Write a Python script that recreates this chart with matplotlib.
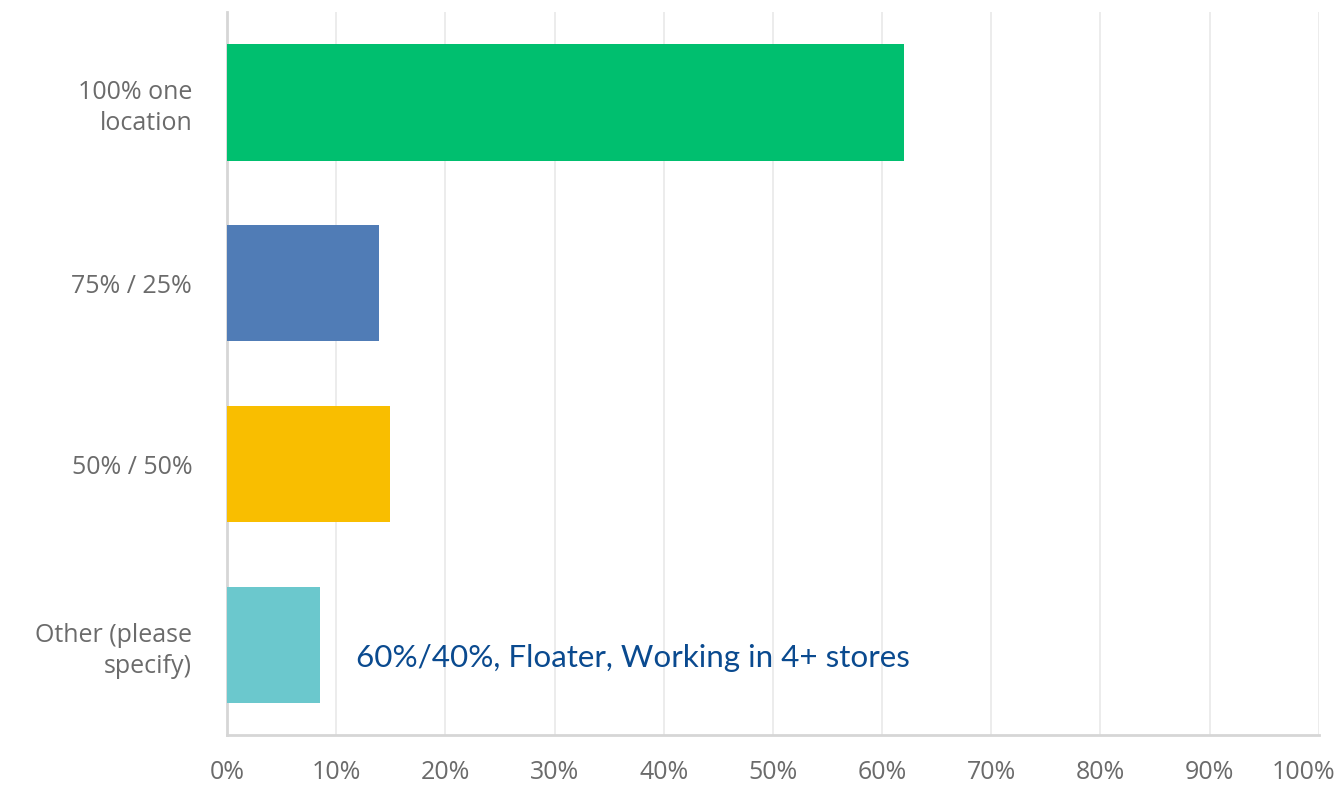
import matplotlib.pyplot as plt
import matplotlib.transforms as mtransforms

# survey answers and share of respondents (%)
categories = ['100% one\nlocation', '75% / 25%', '50% / 50%', 'Other (please\nspecify)']
values = [62.0, 13.9, 14.9, 8.5]
bar_colors = ['#00bf6f', '#507cb6', '#f9be00', '#6bc8cd']
x_ticks = list(range(0, 101, 10))
x_labels = [f'{t}%' for t in x_ticks]
note = '60%/40%, Floater, Working in 4+ stores'

fig = plt.figure(figsize=(13.43, 7.89), dpi=100)
ax = fig.add_axes([0.169, 0.068, 0.813, 0.917])

y = list(range(len(categories)))
ax.barh(y, values, height=0.645, color=bar_colors, zorder=3)

ax.set_xlim(0, 100)
ax.set_ylim(3.5, -0.5)
ax.set_xticks(x_ticks)
ax.set_xticklabels(x_labels)
ax.set_yticks(y)
ax.set_yticklabels(categories, linespacing=1.3)

for lab in ax.get_xticklabels() + ax.get_yticklabels():
    lab.set_fontfamily('Open Sans')
    lab.set_fontsize(18)
    lab.set_color('#6b6b6b')

ax.tick_params(axis='x', length=0, pad=18)
ax.tick_params(axis='y', length=0, pad=25)

# the last tick label sits a bit left so it stays inside the image
last = ax.get_xticklabels()[-1]
last.set_transform(last.get_transform() + mtransforms.ScaledTranslation(-0.15, 0, fig.dpi_scale_trans))

ax.grid(axis='x', color='#e9e9e9', linewidth=1.2, zorder=0)
ax.spines['top'].set_visible(False)
ax.spines['right'].set_visible(False)
ax.spines['left'].set_color('#d6d6d6')
ax.spines['left'].set_linewidth(2)
ax.spines['bottom'].set_color('#d6d6d6')
ax.spines['bottom'].set_linewidth(2)

# note next to the "Other" bar
ax.text(11.8, 3.07, note, fontfamily='Lato', fontsize=22.6, color='#0a4a8f',
        va='center', ha='left', zorder=4)

fig.savefig('out.png', dpi=100)
